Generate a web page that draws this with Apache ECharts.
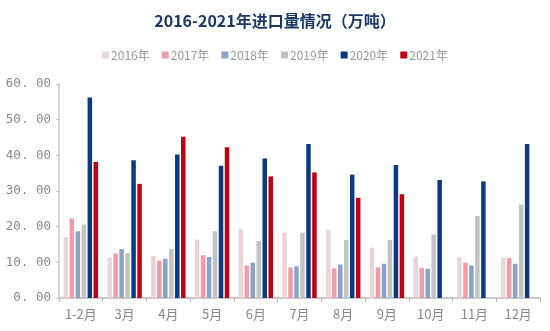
<!DOCTYPE html>
<html><head><meta charset="utf-8">
<script src="https://cdn.jsdelivr.net/npm/echarts@6/dist/echarts.min.js"></script>
<style>html,body{margin:0;padding:0;background:#fff}#c{width:550px;height:331px}</style>
</head><body><div id="c"></div>
<script>
const categories = ['1-2月','3月','4月','5月','6月','7月','8月','9月','10月','11月','12月'];
const seriesNames = ['2016年','2017年','2018年','2019年','2020年','2021年'];
const v2016 = [17.1, 11.3, 11.8, 16.4, 19.4, 18.3, 19.1, 14.1, 11.6, 11.4, 11.3];
const v2017 = [22.3, 12.5, 10.5, 12.0, 9.1, 8.6, 8.3, 8.6, 8.4, 9.9, 11.2];
const v2018 = [18.7, 13.7, 11.0, 11.5, 9.9, 8.9, 9.4, 9.6, 8.2, 9.1, 9.6];
const v2019 = [20.6, 12.6, 13.8, 18.7, 16.0, 18.3, 16.3, 16.3, 17.8, 23.0, 26.2];
const v2020 = [56.2, 38.6, 40.2, 37.1, 39.1, 43.2, 34.6, 37.3, 33.1, 32.7, 43.2];
const v2021 = [38.1, 32.0, 45.2, 42.3, 34.1, 35.2, 28.1, 29.1, null, null, null];
const yTicks = [0, 10, 20, 30, 40, 50, 60];
const colors = ['#ead3d9', '#ef9ca8', '#8aa3c8', '#c3c3c3', '#0b3a80', '#c00013'];
const allData = [v2016, v2017, v2018, v2019, v2020, v2021];

const chart = echarts.init(document.getElementById('c'));
chart.setOption({
  animation: false,
  color: colors,
  title: {
    text: '2016-2021年进口量情况（万吨）',
    left: 'center', top: 8,
    textStyle: {fontFamily: 'Noto Sans CJK SC', fontWeight: 'bold', fontSize: 16, color: '#1c3864'}
  },
  legend: {
    top: 44, left: 'center',
    itemWidth: 7, itemHeight: 7, itemGap: 12,
    icon: 'rect',
    textStyle: {fontFamily: 'Noto Sans CJK SC', fontSize: 12, color: '#999999', padding: [0,0,0,-3]},
    data: seriesNames
  },
  grid: {left: 59, right: 10, top: 84, bottom: 33},
  xAxis: {
    type: 'category', data: categories,
    axisLine: {lineStyle: {color: '#b8b8b8', width: 1.5}},
    axisTick: {show: true, length: 4, lineStyle: {color: '#b8b8b8'}},
    axisLabel: {fontFamily: 'Noto Sans CJK SC', fontSize: 13, color: '#888888', margin: 10}
  },
  yAxis: {
    type: 'value', min: yTicks[0], max: yTicks[yTicks.length-1], interval: 10,
    axisLine: {show: true, lineStyle: {color: '#c8c8c8', width: 1.5}},
    axisTick: {show: true, length: 3, lineStyle: {color: '#c8c8c8'}},
    splitLine: {show: false},
    axisLabel: {fontFamily: 'DejaVu Sans Mono', fontSize: 12.5, color: '#8a8a8a', margin: 8,
      formatter: v => v.toFixed(2).replace('.', '. ')}
  },
  series: seriesNames.map((n, i) => ({
    name: n, type: 'bar', data: allData[i], barWidth: 4.5, barGap: '33%',
    itemStyle: {color: colors[i]}
  }))
});
</script></body></html>
